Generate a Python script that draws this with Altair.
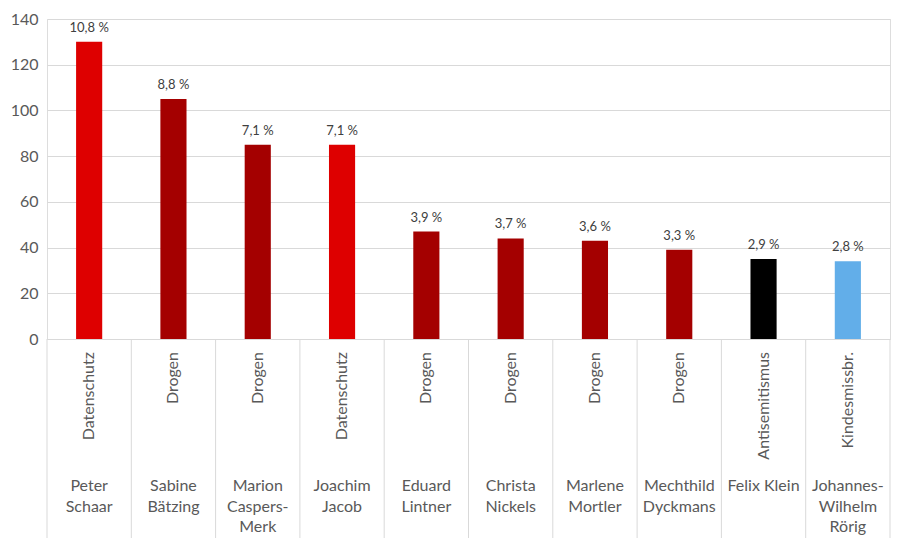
import altair as alt
import pandas as pd

names = ["Peter\nSchaar", "Sabine\nBätzing", "Marion\nCaspers-\nMerk", "Joachim\nJacob",
         "Eduard\nLintner", "Christa\nNickels", "Marlene\nMortler", "Mechthild\nDyckmans",
         "Felix Klein", "Johannes-\nWilhelm\nRörig"]
keys = ["Peter Schaar", "Sabine Bätzing", "Marion Caspers-Merk", "Joachim Jacob",
        "Eduard Lintner", "Christa Nickels", "Marlene Mortler", "Mechthild Dyckmans",
        "Felix Klein", "Johannes-Wilhelm Rörig"]
topics = ["Datenschutz", "Drogen", "Drogen", "Datenschutz", "Drogen", "Drogen",
          "Drogen", "Drogen", "Antisemitismus", "Kindesmissbr."]
values = [130, 105, 85, 85, 47, 44, 43, 39, 35, 34]
pct_labels = ["10,8 %", "8,8 %", "7,1 %", "7,1 %", "3,9 %", "3,7 %", "3,6 %", "3,3 %", "2,9 %", "2,8 %"]
color_topics = ["Datenschutz", "Drogen", "Antisemitismus", "Kindesmissbr."]
color_range = ["#de0000", "#a40000", "#000000", "#62aee9"]
boundaries = list(range(11))

W, H = 843, 320
FONT = "Lato"

df = pd.DataFrame({"key": keys, "name": names, "topic": topics, "value": values, "pct": pct_labels})
bdf = pd.DataFrame({"b": boundaries})

xenc = alt.X("key:N", sort=keys, scale=alt.Scale(paddingInner=0.69, paddingOuter=0.345),
             axis=alt.Axis(labels=False, ticks=False, title=None, domainColor="#d9d9d9", grid=False))

base = alt.Chart(df)

bars = base.mark_bar().encode(
    x=xenc,
    y=alt.Y("value:Q", scale=alt.Scale(domain=[0, 140]),
            axis=alt.Axis(values=[0, 20, 40, 60, 80, 100, 120, 140], title=None, domain=False, ticks=False,
                          labelFontSize=16, labelColor="#595959", labelFont=FONT, labelPadding=9,
                          gridColor="#d9d9d9", gridWidth=1)),
    color=alt.Color("topic:N", scale=alt.Scale(domain=color_topics, range=color_range), legend=None),
)

pct = base.mark_text(baseline="bottom", dy=-7, fontSize=13, font=FONT, color="#404040").encode(
    x=alt.X("key:N", sort=keys), y="value:Q", text="pct:N")

topic_text = base.mark_text(angle=270, align="right", baseline="middle", fontSize=16, font=FONT,
                            color="#595959").encode(
    x=alt.X("key:N", sort=keys), y=alt.value(H + 13), text="topic:N")

name_text = base.mark_text(align="center", baseline="top", fontSize=16, font=FONT, color="#595959",
                           lineBreak="\n", lineHeight=20.5).encode(
    x=alt.X("key:N", sort=keys), y=alt.value(H + 139), text="name:N")

seps = alt.Chart(bdf).mark_rule(color="#d9d9d9", strokeWidth=1).encode(
    x=alt.X("b:Q", scale=alt.Scale(domain=[0, 10], nice=False, zero=False), axis=None),
    y=alt.value(H), y2=alt.value(H + 199))

chart = alt.layer(alt.layer(bars, pct, topic_text, name_text), seps).resolve_scale(x="independent").properties(
    width=W, height=H,
    autosize=alt.AutoSizeParams(type="none"),
    padding={"left": 39, "top": 11, "right": 8, "bottom": 199},
).configure_view(stroke=None).configure(background="white")

chart.save("out.html", embed_options={"renderer": "svg", "actions": False})
